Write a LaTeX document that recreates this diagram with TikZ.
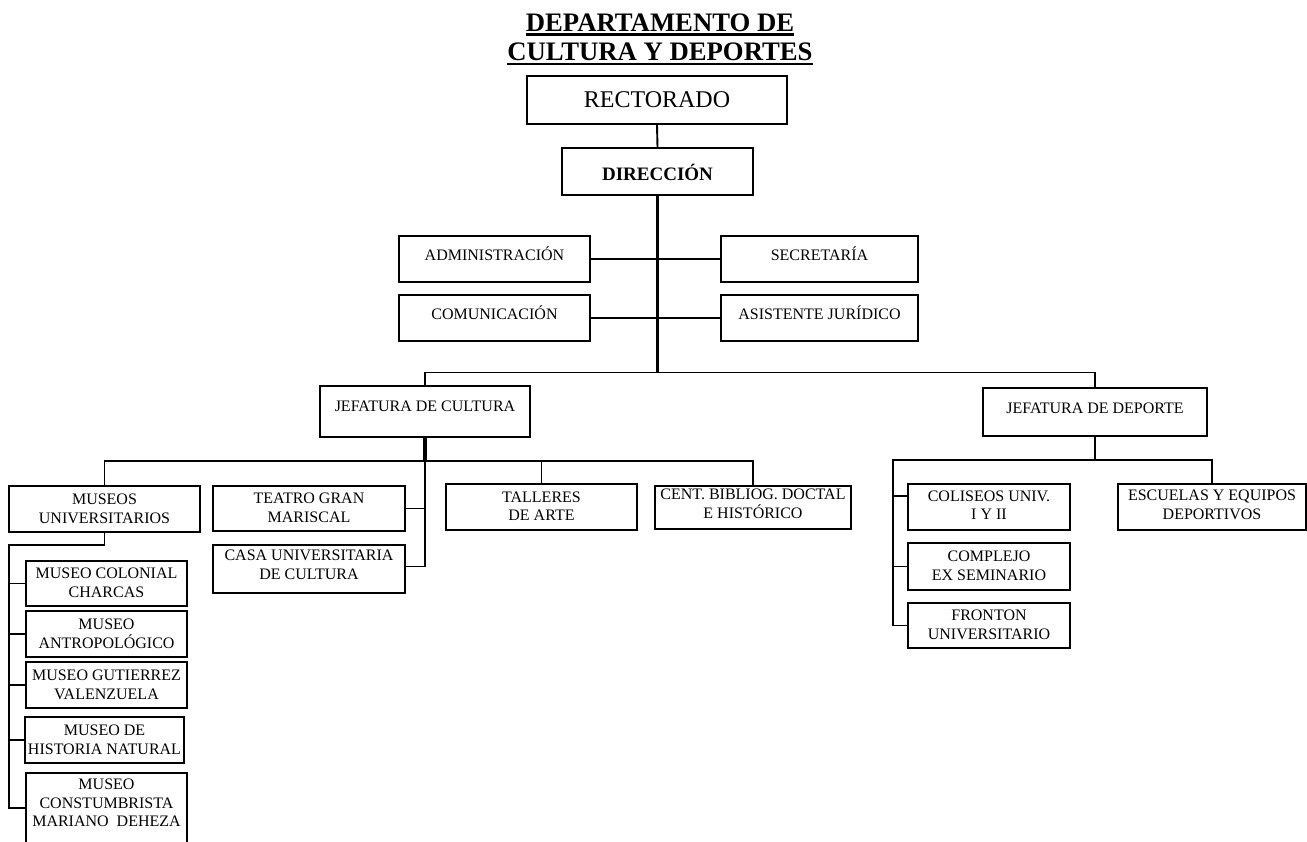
\documentclass[tikz,border=0pt]{standalone}
\usepackage{fontspec}
\setmainfont{Liberation Serif}
\usetikzlibrary{fit,calc}
\newcommand\obox[7]{%
  \node[bx, fit={(#2,#3) (#4,#5)}] (#1) {};
  \node[txt] (#1-t) at ({(#2+#4)/2},#7) {#6};}
\begin{document}
\begin{tikzpicture}[x=1pt,y=-1pt,
  bx/.style={draw, line width=2pt, inner sep=0pt, rectangle},
  txt/.style={inner sep=0pt, align=center, font=\fontsize{16}{18.5}\selectfont},
  ln/.style={line width=1.9pt},
  thk/.style={line width=3.4pt},
  ttl/.style={inner sep=0pt, anchor=base, font=\fontsize{26.7}{30}\selectfont\bfseries},
  ul/.style={line width=2.6pt}
]
\useasboundingbox (0,0) rectangle (1307,841);

% title
\node[ttl] (t1) at (660,31.5) {DEPARTAMENTO DE};
\node[ttl] (t2) at (660,60.5) {CULTURA Y DEPORTES};
\draw[ul] ([yshift=-3pt]t1.base west) -- ([yshift=-3pt]t1.base east);
\draw[ul] ([yshift=-3.5pt]t2.base west) -- ([yshift=-3.5pt]t2.base east);

% boxes
\obox{rect}{527}{76}{787}{124}{\fontsize{24}{26}\selectfont RECTORADO}{100}
\obox{dir}{562}{148}{753}{195}{\fontsize{19}{21}\selectfont\bfseries DIRECCIÓN}{172}
\obox{admin}{399}{236}{590}{282}{ADMINISTRACIÓN}{254}
\obox{secr}{721}{236}{918}{282}{SECRETARÍA}{254}
\obox{comu}{399}{295}{590}{341}{COMUNICACIÓN}{313}
\obox{asis}{721}{295}{918}{341}{ASISTENTE JURÍDICO}{313}
\obox{jcul}{320}{386}{530}{437}{JEFATURA DE CULTURA}{406}
\obox{jdep}{983}{388}{1207}{436}{JEFATURA DE DEPORTE}{408}
\obox{museos}{9}{486}{200}{532}{MUSEOS\\UNIVERSITARIOS}{509}
\obox{teatro}{213}{486}{405}{531}{TEATRO GRAN\\MARISCAL}{508}
\obox{casa}{213}{545}{405}{593}{CASA UNIVERSITARIA\\DE CULTURA}{565}
\obox{talleres}{446}{484}{637}{530}{TALLERES\\DE ARTE}{506}
\obox{cent}{655}{486}{851}{529}{CENT. BIBLIOG. DOCTAL\\E HISTÓRICO}{504}
\obox{mcol}{26}{561}{187}{606}{MUSEO COLONIAL\\CHARCAS}{583}
\obox{mant}{26}{611}{187}{657}{MUSEO\\ANTROPOLÓGICO}{634}
\obox{mgut}{26}{662}{187}{708}{MUSEO GUTIERREZ\\VALENZUELA}{685}
\obox{mhis}{25}{717}{184}{763}{MUSEO DE\\HISTORIA NATURAL}{740}
\obox{mcon}{26}{773}{187}{843}{MUSEO\\CONSTUMBRISTA\\MARIANO\ \ DEHEZA}{803}
\obox{coli}{908}{484}{1070}{530}{COLISEOS UNIV.\\I Y II}{505}
\obox{comp}{908}{543}{1070}{590}{COMPLEJO\\EX SEMINARIO}{566}
\obox{fron}{908}{603}{1070}{648}{FRONTON\\UNIVERSITARIO}{625}
\obox{escu}{1118}{484}{1306}{530}{ESCUELAS Y EQUIPOS\\DEPORTIVOS}{505}

% junctions
\coordinate (mb) at (657.5,372.5);
\coordinate (cb) at (425,461);
\coordinate (mv) at (9,545);
\coordinate (dv) at (893,460);
\coordinate (colc) at ($(coli.north west)!0.28!(coli.south west)$);
\coordinate (casc) at ($(casa.north east)!0.45!(casa.south east)$);

% connectors
\draw[ln] (rect.south) -- (dir.north);
\draw[thk] (dir.south) -- (mb);
\draw[ln] (admin.east) -- (secr.west);
\draw[ln] (comu.east) -- (asis.west);
\draw[ln] (jcul.north) |- (mb) -| (jdep.north);

\draw[thk] (jcul.south) -- (cb);
\draw[ln] (cb) |- (casc);
\draw[ln] (cb |- teatro.east) -- (teatro.east);
\draw[ln] (museos.north) |- (cb) -| (cent.north);
\draw[ln] (talleres.north) -- (talleres.north |- cb);

\draw[ln] (museos.south) |- (mv) -- (mv |- mcon.west) -- (mcon.west);
\foreach \n in {mcol,mant,mgut,mhis}
  \draw[ln] (mv |- \n.west) -- (\n.west);

\draw[ln] (jdep.south) -- (jdep.south |- dv);
\draw[ln] (fron.west) -| (dv) -| (escu.north);
\draw[ln] (dv |- comp.west) -- (comp.west);
\draw[ln] (dv |- colc) -- (colc);
\end{tikzpicture}
\end{document}
